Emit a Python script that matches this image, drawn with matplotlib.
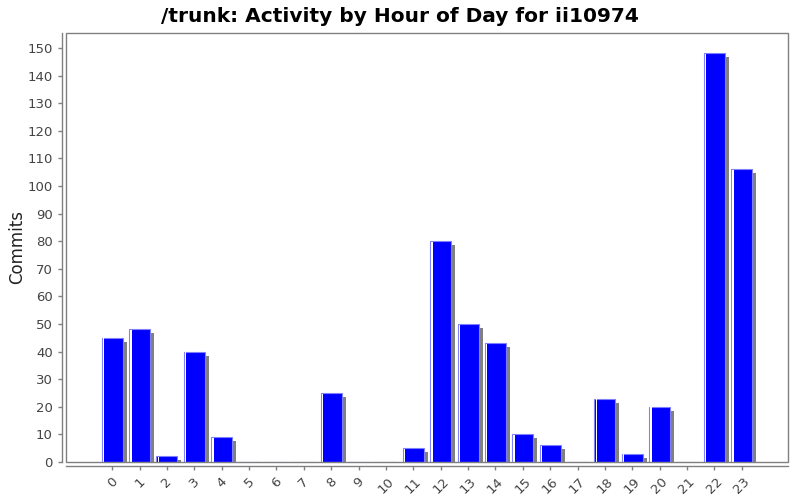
import matplotlib
matplotlib.use("Agg")
import matplotlib.pyplot as plt
from matplotlib.patches import Rectangle

hours = [str(h) for h in range(24)]
commits = [45, 48, 2, 40, 9, 0, 0, 0, 25, 0, 0, 5, 80, 50, 43, 10, 6, 0, 23, 3, 20, 0, 148, 106]
yticks = list(range(0, 151, 10))

fig = plt.figure(figsize=(8, 5), dpi=100)
ax = fig.add_axes([66/800, 38/500, 722/800, 429/500])

xmin, xmax = -1.69, 24.69
ymin, ymax = 0, 155.4
ax.set_xlim(xmin, xmax)
ax.set_ylim(ymin, ymax)

px_x = (xmax - xmin) / 722.0
px_y = (ymax - ymin) / 429.0
w = 21 * px_x
xs = list(range(len(hours)))

# shadows
ax.bar([x + 4 * px_x for x in xs], [max(v - 4 * px_y, 0) for v in commits],
       width=w, color="#808080", linewidth=0, zorder=2)
# bars
ax.bar(xs, commits, width=w, color="#0000ff", edgecolor="#8080ff", linewidth=0.8, zorder=3)
# highlight stripe
ax.bar([x - w / 2 + 1.8 * px_x for x in xs], [max(v - 0.6 * px_y, 0) if v > 0 else 0 for v in commits],
       width=1.2 * px_x, color="white", linewidth=0, zorder=4)

# plot outline
ax.add_patch(Rectangle((0, 0), 1, 1, transform=ax.transAxes, fill=False,
                       edgecolor="#808080", linewidth=1.0, zorder=5, clip_on=False))
for s in ["top", "right"]:
    ax.spines[s].set_visible(False)
for s in ["left", "bottom"]:
    ax.spines[s].set_position(("outward", 3))
    ax.spines[s].set_color("#808080")
    ax.spines[s].set_linewidth(1.0)

ax.set_yticks(yticks)
ax.set_yticklabels([str(t) for t in yticks])
ax.set_xticks(xs)
ax.set_xticklabels(hours, rotation=45)
ax.tick_params(axis="both", colors="#808080", labelcolor="#444444", labelsize=9.5,
               length=3, width=1)
ax.set_ylabel("Commits", fontsize=12, color="#222222")
ax.yaxis.set_label_coords((26 - 66) / 722.0, 0.5)

fig.suptitle("/trunk: Activity by Hour of Day for ii10974", fontsize=14.5,
             fontweight="bold", y=0.985)

fig.savefig("out.png", dpi=100)
